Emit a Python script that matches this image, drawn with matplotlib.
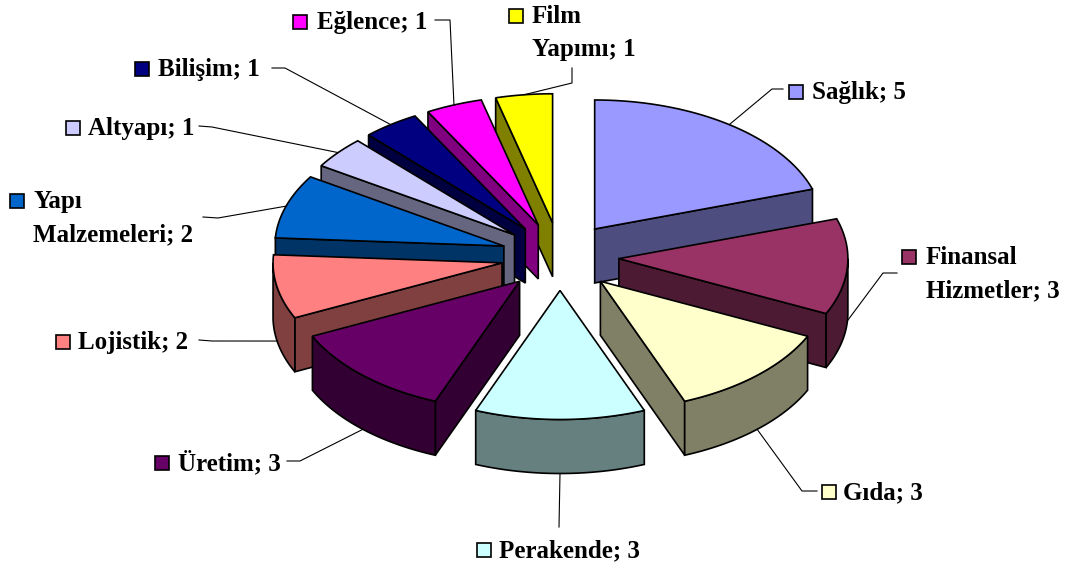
import numpy as np
import matplotlib
matplotlib.use("Agg")
import matplotlib.pyplot as plt
from matplotlib.patches import Polygon, Rectangle
from matplotlib.colors import to_rgb

# ---- data ----
categories = ["Sağlık", "Finansal Hizmetler", "Gıda", "Perakende", "Üretim",
              "Lojistik", "Yapı Malzemeleri", "Altyapı", "Bilişim", "Eğlence",
              "Film Yapımı"]
values = [5, 3, 3, 3, 3, 2, 2, 1, 1, 1, 1]
label_lines = [["Sağlık; 5"], ["Finansal", "Hizmetler; 3"], ["Gıda; 3"],
               ["Perakende; 3"], ["Üretim; 3"], ["Lojistik; 2"],
               ["Yapı", "Malzemeleri; 2"], ["Altyapı; 1"], ["Bilişim; 1"],
               ["Eğlence; 1"], ["Film", "Yapımı; 1"]]
colors = ["#9999FF", "#993366", "#FFFFCC", "#CCFFFF", "#660066", "#FF8080",
          "#0066CC", "#CCCCFF", "#000080", "#FF00FF", "#FFFF00"]

# ---- layout (pixel space, y down) ----
W, H = 1070, 572
CX, CY = 560, 256.5
RX, RY = 229, 129
DEPTH = 54
EX, EY = 59, 34

# label square center, text x, leader elbow path (from slice toward label)
label_pos = [
    ((796, 92), 812, [(772, 89), (783, 89)]),
    ((909, 257), 926, [(883, 273), (897, 273)]),
    ((829, 492), 843, [(802, 491), (817, 491)]),
    ((484, 550), 499, [(559, 527)]),
    ((162, 463), 178, [(300, 461), (287, 461)]),
    ((63, 342), 78, [(212, 341), (199, 340)]),
    ((17, 201), 33, [(218, 218), (203, 217)]),
    ((73, 128), 88, [(212, 127), (199, 126)]),
    ((142, 69), 158, [(285, 68), (272, 68)]),
    ((300, 22), 317, [(450, 20), (435, 20)]),
    ((516, 16), 532, [(572, 83), (572, 68)]),
]

fig = plt.figure(figsize=(W / 100, H / 100), dpi=100)
ax = fig.add_axes([0, 0, 1, 1])
ax.set_xlim(0, W)
ax.set_ylim(H, 0)
ax.axis("off")

def dark(c):
    r, g, b = to_rgb(c)
    return (r * 0.5, g * 0.5, b * 0.5)

total = float(sum(values))
slices = []
start = 90.0
for i, v in enumerate(values):
    a1 = start
    a2 = start - 360.0 * v / total
    mid = np.radians((a1 + a2) / 2)
    apex = (CX + EX * np.cos(mid), CY - EY * np.sin(mid))
    slices.append((i, a1, a2, mid, apex))
    start = a2

def rim(A, t, dz=0.0):
    return (A[0] + RX * np.cos(t), A[1] - RY * np.sin(t) + dz)

LW = 1.2
z = 1
order = sorted(slices, key=lambda s: s[4][1])
for (i, a1, a2, mid, A) in order:
    col = colors[i]
    side = dark(col)
    r1, r2 = np.radians(a1), np.radians(a2)
    # cut faces
    if np.cos(r1) < -1e-6:
        p = rim(A, r1)
        poly = [A, p, (p[0], p[1] + DEPTH), (A[0], A[1] + DEPTH)]
        ax.add_patch(Polygon(poly, closed=True, fc=side, ec="black", lw=LW, zorder=z)); z += 1
    if np.cos(r2) > 1e-6:
        p = rim(A, r2)
        poly = [A, p, (p[0], p[1] + DEPTH), (A[0], A[1] + DEPTH)]
        ax.add_patch(Polygon(poly, closed=True, fc=side, ec="black", lw=LW, zorder=z)); z += 1
    # outer wall (front part)
    lo, hi = max(a2, -180.0), min(a1, 0.0)
    if hi > lo:
        ts = np.radians(np.linspace(hi, lo, 60))
        top = [rim(A, t) for t in ts]
        bot = [rim(A, t, DEPTH) for t in ts[::-1]]
        ax.add_patch(Polygon(top + bot, closed=True, fc=side, ec="black", lw=LW, zorder=z)); z += 1
    # top face
    ts = np.radians(np.linspace(a1, a2, 80))
    poly = [A] + [rim(A, t) for t in ts]
    ax.add_patch(Polygon(poly, closed=True, fc=col, ec="black", lw=LW, zorder=z)); z += 1

# labels and leader lines
FONT = dict(family="Liberation Serif", fontweight="bold", fontsize=18, color="black")
for (i, a1, a2, mid, A) in slices:
    (sx, sy), tx, path = label_pos[i]
    dz = 0.0 if np.sin(mid) > 0 else DEPTH
    anchor = rim(A, mid, dz)
    pts = [anchor] + path
    ax.plot([p[0] for p in pts], [p[1] for p in pts], color="black", lw=0.8, zorder=200)
    ax.add_patch(Rectangle((sx - 7, sy - 7), 14, 14, fc=colors[i], ec="black", lw=1.2, zorder=201))
    for k, line in enumerate(label_lines[i]):
        ax.text(tx, sy + 7 + 33 * k, line, ha="left", va="baseline", zorder=202, **FONT)

fig.savefig("out.png", dpi=100)
